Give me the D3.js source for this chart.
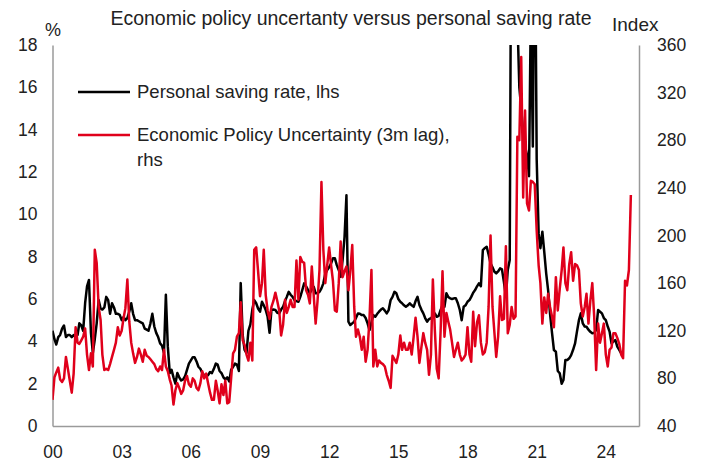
<!DOCTYPE html>
<html>
<head>
<meta charset="utf-8">
<script src="https://cdn.jsdelivr.net/npm/d3@7"></script>
<style>
  body { margin: 0; background: #fff; }
  text { font-family: "Liberation Sans", Arial, sans-serif; fill: #222; }
</style>
</head>
<body>
<div id="chart"></div>
<script>
// monthly, starting Jan 2000
var saving = [
  4.5, 4.1, 3.85, 4.2, 4.3, 4.6, 4.75, 4.2, 4.3, 4.3, 4.2, 4.3,
  4.2, 4.3, 4.85, 4.75, 4.5, 5.8, 6.6, 6.9, 4.4, 3.45, 4.1, 4.85,
  5.95, 5.55, 5.5, 5.6, 6.1, 5.95, 5.3, 5.8, 5.6, 5.3, 5.3, 5.25,
  5.0, 5.15, 5.0, 5.1, 5.4, 5.8, 5.3, 5.0, 5.0, 4.95, 4.9, 4.85,
  4.6, 4.55, 4.5, 4.85, 5.3, 4.7, 4.4, 4.2, 3.9, 3.8, 3.45, 6.2,
  3.75, 2.5, 2.65, 2.3, 2.0, 2.5, 2.3, 2.15, 2.2, 2.35, 2.65, 2.95,
  3.1, 3.25, 3.25, 3.05, 2.8, 2.7, 2.5, 2.4, 2.35, 2.4, 2.55, 2.5,
  2.7, 2.95, 2.9, 2.6, 2.5, 2.3, 2.2, 2.3, 2.1, 2.65, 2.8, 2.95,
  2.9, 2.6, 6.75, 4.3, 3.6, 3.45, 4.5, 4.8, 5.5, 5.95, 5.8, 5.55,
  5.4, 5.87, 5.7, 5.48, 5.16, 4.4, 5.48, 5.5, 5.48, 5.35, 5.32, 5.5,
  5.63, 5.9, 6.1, 6.34, 6.2, 6.1, 5.95, 5.9, 5.87, 6.1, 6.42, 6.74,
  6.6, 6.42, 6.27, 6.45, 6.58, 6.27, 6.27, 6.34, 6.5, 6.74, 7.2, 7.37,
  7.5, 7.68, 7.92, 7.92, 7.6, 7.37, 7.05, 7.84, 8.94, 10.9, 4.93, 4.77,
  4.85, 4.93, 5.1, 5.32, 5.3, 5.24, 5.24, 5.1, 4.85, 4.53, 4.9, 5.24,
  5.16, 5.3, 5.4, 5.5, 5.56, 5.45, 5.32, 5.48, 5.95, 6.1, 6.34, 6.27,
  6.0, 5.87, 5.8, 5.7, 5.63, 5.7, 5.8, 5.7, 5.63, 5.9, 6.1, 5.72,
  5.5, 5.32, 5.1, 4.93, 5.05, 5.09, 5.2, 5.32, 5.16, 5.2, 5.48, 5.7,
  5.63, 6.27, 6.1, 6.03, 6.0, 6.03, 6.03, 5.8, 5.48, 5.0, 5.63, 5.7,
  5.87, 5.95, 6.1, 6.3, 6.42, 6.6, 6.74, 6.6, 8.31, 8.4, 8.47, 8.1,
  7.68, 7.5, 7.3, 7.21, 7.3, 7.45, 7.4, 6.8, 6.1, 7.37, 7.84, 30,
  24, 19.5, 19.3, 16, 15, 13.8, 13.2, 12.8, 11.8, 19.9, 13.2, 26,
  12.6, 9.1, 8.4, 9.18, 8.23, 7.2, 6.42, 5.3, 4.4, 3.59, 3.51, 2.6,
  2.49, 2.0, 2.17, 3.12, 3.12, 3.2, 3.35, 3.6, 3.9, 4.46, 5.0, 5.32,
  4.85, 4.7, 4.69, 4.55, 4.45, 4.38, 4.4, 4.53, 5.48, 5.4, 5.32, 5.1,
  5.0, 4.7, 4.46, 3.9, 4.0, 4.06, 3.75, 3.6, 3.43
];

// Economic Policy Uncertainty, shifted 3 months, monthly from Jan 2000
var epu = [
  62, 81, 85, 89, 79, 77, 80, 98, 88, 78, 68, 84,
  123, 110, 109, 112, 115, 122, 100, 87, 101, 90, 188, 177,
  140, 129, 100, 87, 88, 87, 92, 98, 104, 110, 123, 116,
  120, 131, 139, 163, 128, 110, 101, 93, 98, 105, 100, 94,
  104, 99, 98, 96, 94, 92, 88, 86, 90, 87, 104, 90,
  86, 79, 74, 58, 70, 76, 72, 67, 70, 78, 82, 75,
  73, 80, 78, 72, 70, 76, 86, 80, 84, 76, 68, 62,
  62, 78, 70, 59, 75, 66, 78, 59, 60, 80, 101, 104,
  115, 118, 144, 112, 108, 100, 95, 110, 95, 188, 190, 170,
  149, 160, 188, 150, 137, 130, 140, 145, 152, 145, 137, 116,
  125, 146, 135, 140, 146, 140, 140, 179, 146, 182, 178, 177,
  154, 150, 143, 174, 150, 126, 145, 171, 245, 188, 160, 175,
  190, 175, 162, 137, 136, 160, 195, 165, 170, 174, 154, 170,
  192, 140, 115, 121, 115, 104, 115, 94, 104, 130, 171, 90,
  104, 90, 95, 93, 92, 90, 83, 78, 72, 99, 96, 93,
  100, 116, 104, 110, 104, 104, 110, 100, 115, 131, 115, 93,
  106, 118, 110, 104, 83, 100, 163, 121, 88, 80, 120, 170,
  115, 135, 128, 121, 110, 98, 104, 110, 100, 95, 97, 100,
  123, 100, 94, 136, 107, 127, 133, 110, 100, 102, 110, 140,
  200, 140, 120, 98, 115, 149, 129, 130, 191, 118, 125, 140,
  130, 132, 283, 280, 350, 232, 305, 227, 221, 246, 245, 243,
  204, 175, 160, 126, 148, 135, 151, 140, 132, 123, 165, 137,
  155, 171, 190, 160, 154, 176, 186, 162, 176, 175, 171, 143,
  132, 140, 151, 126, 145, 160, 132, 87, 126, 110, 118, 126,
  100, 90, 104, 106, 118, 118, 114, 109, 100, 97, 162, 158,
  171, 234
];

var yearTicks = [2000, 2003, 2006, 2009, 2012, 2015, 2018, 2021, 2024];
var leftTicks = [0, 2, 4, 6, 8, 10, 12, 14, 16, 18];
var rightTicks = [40, 80, 120, 160, 200, 240, 280, 320, 360];

var legendItems = [
  {label: ["Personal saving rate, lhs"], color: "#000"},
  {label: ["Economic Policy Uncertainty (3m lag),", "rhs"], color: "#e0001b"}
];

var width = 702, height = 463;
var margin = {left: 52.5, right: 639, top: 45, bottom: 426};

var svg = d3.select("#chart").append("svg")
  .attr("width", width)
  .attr("height", height);

var month = i => new Date(2000, i, 1);

var x = d3.scaleTime()
  .domain([new Date(2000, 0, 1), new Date(2025, 5, 10)])
  .range([margin.left, margin.right]);
var yL = d3.scaleLinear().domain([0, 18]).range([margin.bottom, margin.top]);
var yR = d3.scaleLinear().domain([40, 360]).range([margin.bottom, margin.top]);

svg.append("defs").append("clipPath").attr("id", "plot")
  .append("rect")
  .attr("x", margin.left).attr("y", margin.top)
  .attr("width", margin.right - margin.left)
  .attr("height", margin.bottom - margin.top);

// axes
function styleAxis(g) {
  g.select(".domain").attr("stroke", "#9a9a9a").attr("stroke-width", 1.5);
  g.selectAll("text").style("font-size", "17.5px").attr("fill", "#222");
}

svg.append("g")
  .attr("transform", `translate(0,${margin.bottom})`)
  .call(d3.axisBottom(x).tickValues(yearTicks.map(y => new Date(y, 0, 1)))
    .tickFormat(d3.timeFormat("%y")).tickSize(0).tickPadding(20))
  .call(styleAxis);

svg.append("g")
  .attr("transform", `translate(${margin.left},0)`)
  .call(d3.axisLeft(yL).tickValues(leftTicks).tickSize(0).tickPadding(15))
  .call(styleAxis);

svg.append("g")
  .attr("transform", `translate(${margin.right},0)`)
  .call(d3.axisRight(yR).tickValues(rightTicks).tickSize(0).tickPadding(18))
  .call(styleAxis);

// lines
var lines = svg.append("g").attr("clip-path", "url(#plot)");

lines.append("path")
  .datum(saving)
  .attr("fill", "none")
  .attr("stroke", "#000")
  .attr("stroke-width", 2.5)
  .attr("stroke-linejoin", "round")
  .attr("d", d3.line().x((d, i) => x(month(i))).y(d => yL(d)));

lines.append("path")
  .datum(epu)
  .attr("fill", "none")
  .attr("stroke", legendItems[1].color)
  .attr("stroke-width", 2.5)
  .attr("stroke-linejoin", "round")
  .attr("d", d3.line().x((d, i) => x(month(i))).y(d => yR(d)));

// titles
svg.append("text")
  .attr("x", 351).attr("y", 25)
  .attr("text-anchor", "middle")
  .style("font-size", "19.5px")
  .text("Economic policy uncertanty versus personal saving rate");

svg.append("text")
  .attr("x", 45).attr("y", 36)
  .style("font-size", "18px")
  .text("%");

svg.append("text")
  .attr("x", 612).attr("y", 31)
  .style("font-size", "19px")
  .text("Index");

// legend
var legend = svg.append("g");
legendItems.forEach((item, i) => {
  var ly = 92 + i * 43;
  legend.append("line")
    .attr("x1", 78).attr("x2", 130)
    .attr("y1", ly).attr("y2", ly)
    .attr("stroke", item.color)
    .attr("stroke-width", 2.5);
  item.label.forEach((t, j) => {
    legend.append("text")
      .attr("x", 137).attr("y", ly + j * 25)
      .attr("dy", "0.35em")
      .style("font-size", "18.5px")
      .text(t);
  });
});
</script>
</body>
</html>
